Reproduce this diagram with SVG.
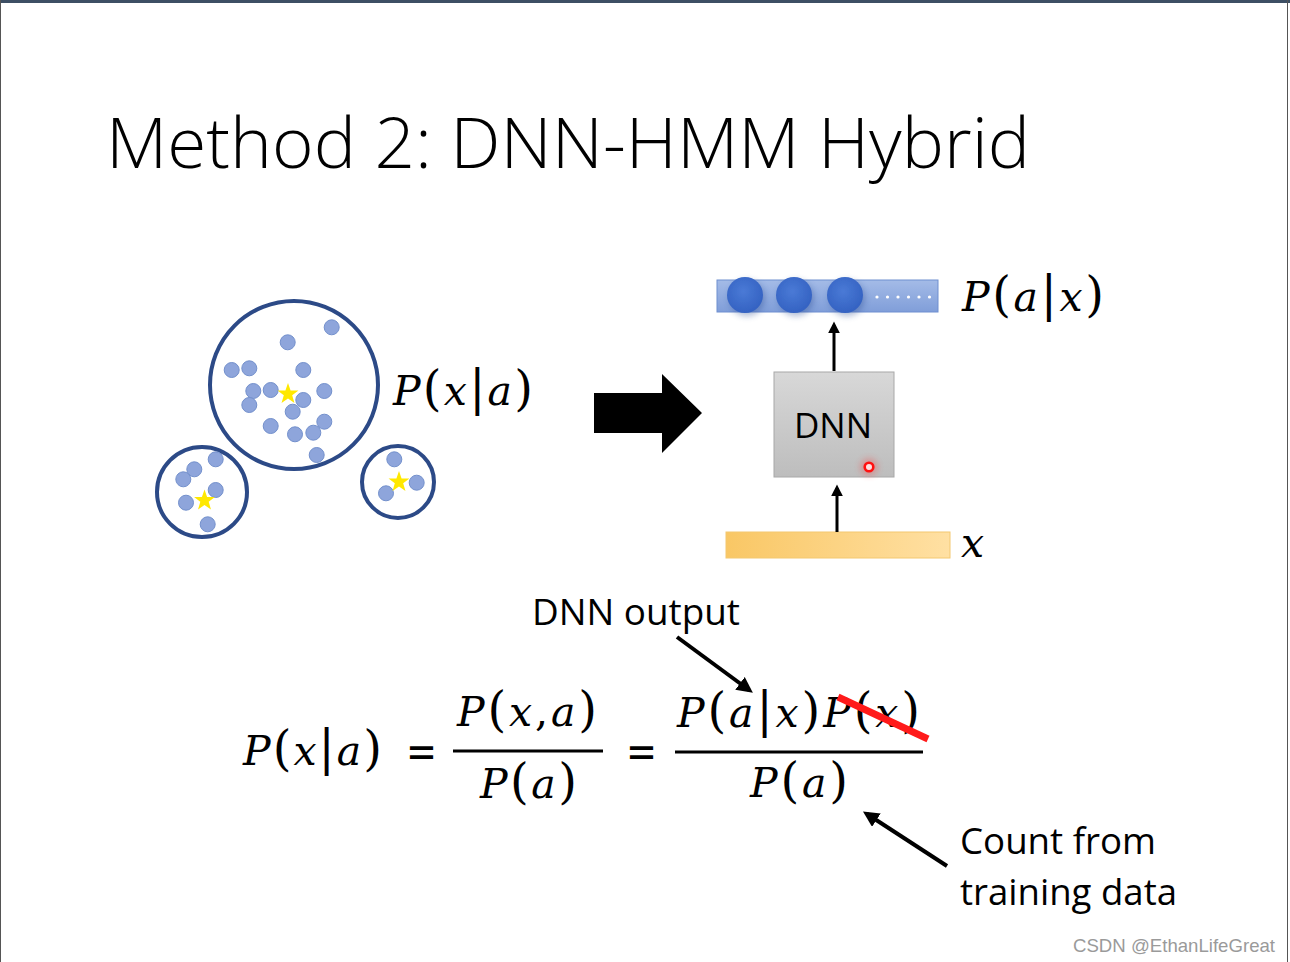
<svg xmlns="http://www.w3.org/2000/svg" width="1290" height="962" viewBox="0 0 1290 962">
<style>
.sans{font-family:"Open Sans","Liberation Sans",sans-serif;fill:#000}
.m{font-family:"DejaVu Serif","Liberation Serif",serif;font-size:41px;fill:#000}
.i{font-style:italic}
.p{font-size:48px;font-style:normal}
.eq{font-family:"DejaVu Sans","Liberation Sans",sans-serif;font-size:44px;fill:#000}
.ring{fill:none;stroke:#2c4a87;stroke-width:4}
.dot{fill:#8ea5db;stroke:#7390cc;stroke-width:1}
.star{fill:#ffe800}
.conn{stroke:#000;fill:none}
.ball{fill:url(#gBall)}
</style>
<defs>
<polygon id="star" class="star" points="0,-11 2.59,-3.56 10.46,-3.4 4.18,1.36 6.47,8.9 0,4.4 -6.47,8.9 -4.18,1.36 -10.46,-3.4 -2.59,-3.56"/>
<marker id="ah" viewBox="0 0 10 10" refX="7" refY="5" markerWidth="4" markerHeight="4" orient="auto" markerUnits="strokeWidth">
<path d="M0,0 L10,5 L0,10 z" fill="#000"/>
</marker>
<linearGradient id="gBar" x1="0" y1="0" x2="0" y2="1">
<stop offset="0" stop-color="#a4bbe7"/><stop offset="1" stop-color="#809ed9"/>
</linearGradient>
<radialGradient id="gBall" cx="0.45" cy="0.4" r="0.6">
<stop offset="0" stop-color="#4a7ad6"/><stop offset="1" stop-color="#3462c2"/>
</radialGradient>
<linearGradient id="gBox" x1="0" y1="0" x2="0" y2="1">
<stop offset="0" stop-color="#d8d8d8"/><stop offset="1" stop-color="#bdbdbd"/>
</linearGradient>
<linearGradient id="gIn" x1="0" y1="0" x2="1" y2="0">
<stop offset="0" stop-color="#f9c765"/><stop offset="1" stop-color="#ffe0a3"/>
</linearGradient>
<filter id="blur1" x="-30%" y="-30%" width="160%" height="160%"><feGaussianBlur stdDeviation="0.6"/></filter>
<filter id="blur3" x="-50%" y="-50%" width="200%" height="200%"><feGaussianBlur stdDeviation="3"/></filter>
</defs>
<rect width="1290" height="962" fill="#fff"/>
<rect x="0" y="0" width="1290" height="3" fill="#3d4f64"/>
<line x1="0.5" y1="0" x2="0.5" y2="962" stroke="#555" stroke-width="1"/>
<line x1="1287.5" y1="0" x2="1287.5" y2="962" stroke="#555" stroke-width="1"/>

<g id="title">
<text class="sans" x="106" y="168" font-size="70" font-weight="300" textLength="924" lengthAdjust="spacingAndGlyphs">Method 2: DNN-HMM Hybrid</text>
</g>

<g id="cluster-big">
<circle class="ring" cx="294" cy="385" r="84"/>
<circle class="dot" cx="331.7" cy="327.3" r="7.5"/>
<circle class="dot" cx="287.7" cy="342.3" r="7.5"/>
<circle class="dot" cx="231.7" cy="370" r="7.5"/>
<circle class="dot" cx="249.3" cy="368.3" r="7.5"/>
<circle class="dot" cx="303.3" cy="370" r="7.5"/>
<circle class="dot" cx="253.3" cy="391" r="7.5"/>
<circle class="dot" cx="270.7" cy="390" r="7.5"/>
<circle class="dot" cx="324.3" cy="391" r="7.5"/>
<circle class="dot" cx="249.3" cy="405" r="7.5"/>
<circle class="dot" cx="292.7" cy="411.7" r="7.5"/>
<circle class="dot" cx="324.3" cy="421.7" r="7.5"/>
<circle class="dot" cx="270.7" cy="426" r="7.5"/>
<circle class="dot" cx="295" cy="434.3" r="7.5"/>
<circle class="dot" cx="313.3" cy="432.7" r="7.5"/>
<circle class="dot" cx="316.7" cy="455" r="7.5"/>
<use href="#star" x="288" y="394"/>
<circle class="dot" cx="303.3" cy="400" r="7.5"/>
</g>
<g id="cluster-left">
<circle class="ring" cx="202" cy="492" r="45"/>
<circle class="dot" cx="215.7" cy="459.3" r="7.5"/>
<circle class="dot" cx="194.3" cy="469.3" r="7.5"/>
<circle class="dot" cx="183.3" cy="479.3" r="7.5"/>
<circle class="dot" cx="215.7" cy="490" r="7.5"/>
<circle class="dot" cx="186" cy="502.7" r="7.5"/>
<circle class="dot" cx="207.7" cy="524.3" r="7.5"/>
<use href="#star" x="204.5" y="500.5"/>
</g>
<g id="cluster-right">
<circle class="ring" cx="398" cy="482" r="36"/>
<circle class="dot" cx="394.3" cy="459.3" r="7.5"/>
<circle class="dot" cx="416.7" cy="482.7" r="7.5"/>
<circle class="dot" cx="386" cy="493.3" r="7.5"/>
<use href="#star" x="399" y="482"/>
</g>

<g id="label-pxa">
<text class="m i" x="393" y="405" textLength="140" lengthAdjust="spacing">P<tspan class="p">(</tspan>x<tspan class="p">|</tspan>a<tspan class="p">)</tspan></text>
</g>

<g id="big-arrow">
<polygon points="594,393 662,393 662,374 702,413 662,453 662,433 594,433" fill="#000"/>
</g>

<g id="output-layer">
<rect x="717" y="280" width="221" height="32" fill="url(#gBar)" stroke="#6f8fd0" stroke-width="1"/>
<g filter="url(#blur3)" fill="#1f3f88" opacity="0.35">
<circle cx="747" cy="298" r="18"/><circle cx="796" cy="298" r="18"/><circle cx="847" cy="298" r="18"/>
</g>
<g filter="url(#blur1)">
<circle class="ball" cx="745" cy="295" r="18"/>
<circle class="ball" cx="794" cy="295" r="18"/>
<circle class="ball" cx="845" cy="295" r="18"/>
</g>
<g fill="#fff">
<circle cx="877" cy="297" r="1.6"/><circle cx="887.5" cy="297" r="1.6"/><circle cx="898" cy="297" r="1.6"/>
<circle cx="908.5" cy="297" r="1.6"/><circle cx="919" cy="297" r="1.6"/><circle cx="929.5" cy="297" r="1.6"/>
</g>
<text class="m i" x="962" y="311" textLength="142" lengthAdjust="spacing">P<tspan class="p">(</tspan>a<tspan class="p">|</tspan>x<tspan class="p">)</tspan></text>
</g>

<g id="dnn">
<rect x="774" y="372" width="120" height="105" fill="url(#gBox)" stroke="#a8a8a8" stroke-width="1"/>
<text class="sans" x="833" y="438" font-size="35" text-anchor="middle">DNN</text>
<circle cx="869" cy="467" r="9" fill="#ff3030" opacity="0.3" filter="url(#blur3)"/>
<circle cx="869" cy="467" r="4.3" fill="#ffe0e0" stroke="#ff1010" stroke-width="2.6"/>
</g>

<g id="input-layer">
<rect x="726" y="532" width="224" height="26" fill="url(#gIn)" stroke="#f3c870" stroke-width="1"/>
<text class="m i" x="961" y="557">x</text>
</g>

<g id="equation">
<text class="m i" x="243" y="765" textLength="139" lengthAdjust="spacing">P<tspan class="p">(</tspan>x<tspan class="p">|</tspan>a<tspan class="p">)</tspan></text>
<text class="eq" x="406" y="767" textLength="31" lengthAdjust="spacingAndGlyphs">=</text>
<text class="m i" x="457" y="726" textLength="140" lengthAdjust="spacing">P<tspan class="p">(</tspan>x<tspan font-style="normal">,</tspan>a<tspan class="p">)</tspan></text>
<line x1="453" y1="751" x2="603" y2="751" stroke="#000" stroke-width="3"/>
<text class="m i" x="480" y="798" textLength="97" lengthAdjust="spacing">P<tspan class="p">(</tspan>a<tspan class="p">)</tspan></text>
<text class="eq" x="626" y="767" textLength="31" lengthAdjust="spacingAndGlyphs">=</text>
<text class="m i" x="677" y="727" textLength="243" lengthAdjust="spacing">P<tspan class="p">(</tspan>a<tspan class="p">|</tspan>x<tspan class="p">)</tspan>P<tspan class="p">(</tspan>x<tspan class="p">)</tspan></text>
<line x1="675" y1="752" x2="923" y2="752" stroke="#000" stroke-width="3"/>
<text class="m i" x="750" y="797" textLength="98" lengthAdjust="spacing">P<tspan class="p">(</tspan>a<tspan class="p">)</tspan></text>
<line x1="838" y1="697" x2="928" y2="739" stroke="#ff1a1a" stroke-width="7"/>
</g>

<g id="annotations">
<text class="sans" x="532" y="625" font-size="36" textLength="208" lengthAdjust="spacingAndGlyphs">DNN output</text>
<text class="sans" x="960" y="854" font-size="36" textLength="196" lengthAdjust="spacingAndGlyphs">Count from</text>
<text class="sans" x="960" y="905" font-size="36" textLength="217" lengthAdjust="spacingAndGlyphs">training data</text>
<text x="1073" y="952" font-family="Liberation Sans, Arial, sans-serif" font-size="18.5" fill="#9a9a9a" textLength="202" lengthAdjust="spacingAndGlyphs">CSDN @EthanLifeGreat</text>
</g>

<g id="connectors">
<line class="conn" x1="834" y1="371" x2="834" y2="325" stroke-width="3" marker-end="url(#ah)"/>
<line class="conn" x1="837" y1="532" x2="837" y2="488" stroke-width="3" marker-end="url(#ah)"/>
<line class="conn" x1="677" y1="637" x2="749" y2="690" stroke-width="4" marker-end="url(#ah)"/>
<line class="conn" x1="947" y1="866" x2="867" y2="814" stroke-width="4" marker-end="url(#ah)"/>
</g>
</svg>
